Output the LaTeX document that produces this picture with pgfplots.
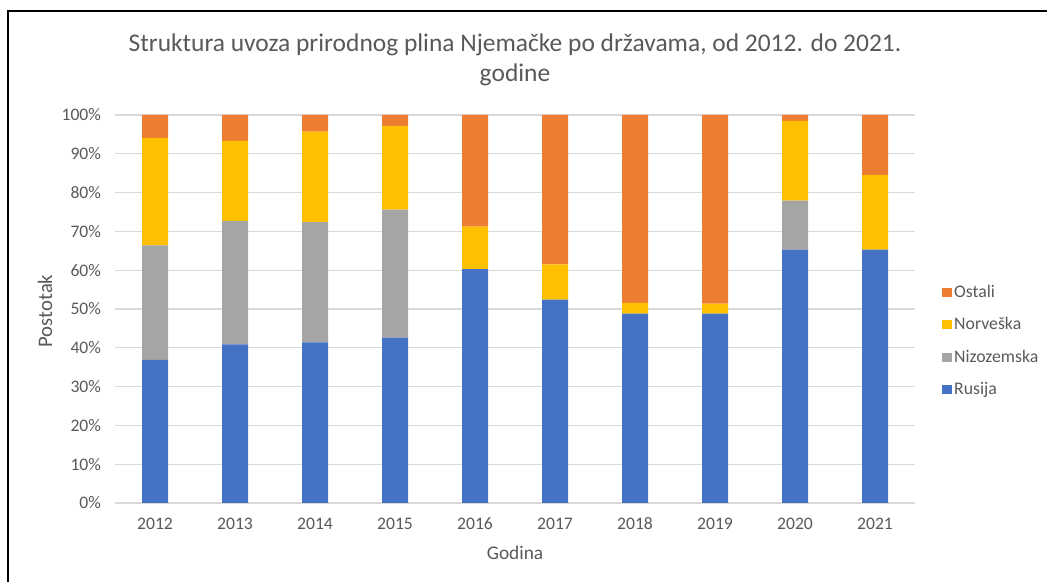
\documentclass[border=0pt]{standalone}
\usepackage{pgfplots}
\pgfplotsset{compat=1.18}
\usepackage{fontspec}
\setmainfont{Carlito}
\definecolor{rus}{HTML}{4472C4}
\definecolor{niz}{HTML}{A5A5A5}
\definecolor{nor}{HTML}{FFC000}
\definecolor{ost}{HTML}{ED7D31}
\definecolor{txt}{HTML}{595959}
\definecolor{grd}{HTML}{D9D9D9}
\begin{document}
\begin{tikzpicture}[x=0.75pt,y=0.75pt]
\useasboundingbox (0,0) rectangle (1047,582);
\draw[line width=1.5pt] (7.5,0) -- (7.5,571) -- (1047,571);
\node[text=txt, font=\fontsize{19.1}{23}\selectfont] at (515,537) {Struktura uvoza prirodnog plina Njemačke po državama, od 2012. do 2021.};
\node[text=txt, font=\fontsize{19.1}{23}\selectfont] at (515,507) {godine};
\node[text=txt, font=\fontsize{15.5}{18}\selectfont, rotate=90] at (45,271) {Postotak};
\node[text=txt, font=\fontsize{14.5}{17}\selectfont] at (515,29) {Godina};
\begin{axis}[
  at={(86.25pt,59.25pt)}, anchor=south west,
  scale only axis, width=600pt, height=291pt,
  ybar stacked, bar width=19.5pt,
  xmin=-0.5, xmax=9.5, ymin=0, ymax=100,
  xtick={0,...,9},
  xticklabels={2012,2013,2014,2015,2016,2017,2018,2019,2020,2021},
  ytick={0,10,...,100},
  yticklabels={0\%,10\%,20\%,30\%,40\%,50\%,60\%,70\%,80\%,90\%,100\%},
  major tick length=0pt,
  axis line style={draw=none},
  ymajorgrids, grid style={draw=grd, line width=0.9pt},
  ticklabel style={text=txt, font=\fontsize{13.2}{16}\selectfont},
  yticklabel style={xshift=-7pt},
  xticklabel style={yshift=-7pt, text height=9pt, text depth=0pt},
  legend style={at={(1.029,0.418)}, anchor=west, draw=none, fill=none,
     font=\fontsize{13.3}{16}\selectfont, text=txt, row sep=9.6pt},
  legend cell align=left,
  reverse legend,
  legend image code/.code={\fill[#1] (0pt,-3.4pt) rectangle (6.8pt,3.4pt);},
]
\addplot[fill=rus, draw=none] coordinates {(0,36.9) (1,40.9) (2,41.4) (3,42.6) (4,60.3) (5,52.4) (6,48.8) (7,48.8) (8,65.3) (9,65.3)};
\addplot[fill=niz, draw=none] coordinates {(0,29.5) (1,31.8) (2,31.0) (3,33.0) (4,0) (5,0) (6,0) (7,0) (8,12.6) (9,0)};
\addplot[fill=nor, draw=none] coordinates {(0,27.7) (1,20.6) (2,23.3) (3,21.6) (4,10.9) (5,9.1) (6,2.8) (7,2.6) (8,20.6) (9,19.2)};
\addplot[fill=ost, draw=none] coordinates {(0,5.9) (1,6.7) (2,4.3) (3,2.8) (4,28.8) (5,38.5) (6,48.4) (7,48.6) (8,1.5) (9,15.5)};
\legend{Rusija,Nizozemska,Norveška,Ostali}
\end{axis}
\end{tikzpicture}
\end{document}
